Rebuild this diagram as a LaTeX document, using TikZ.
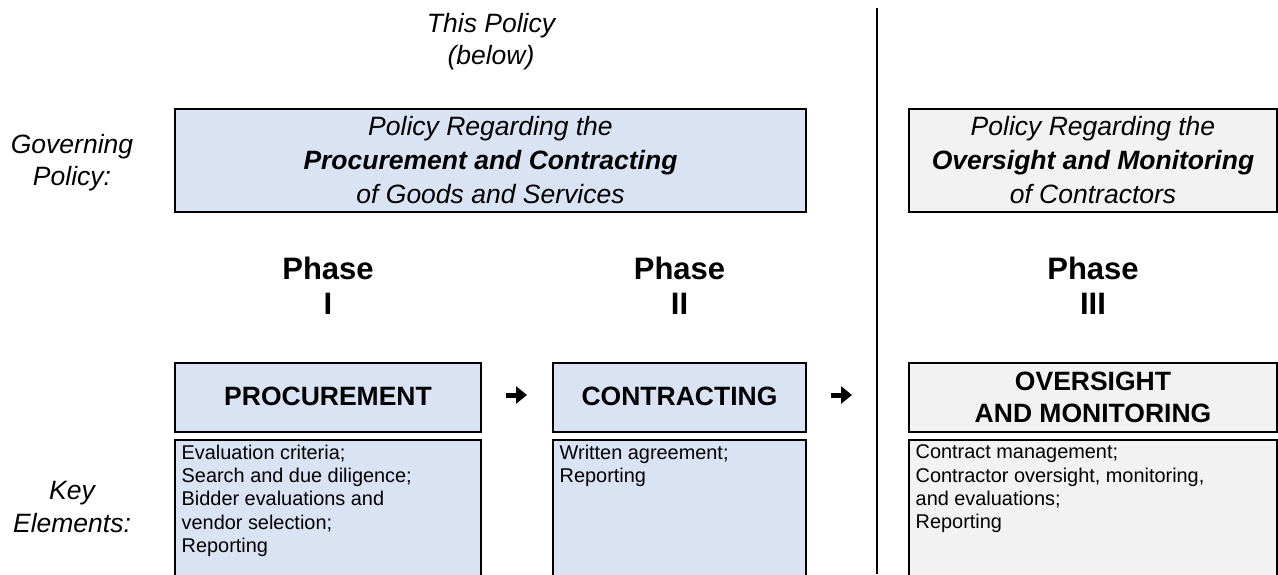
\documentclass[tikz,border=0pt]{standalone}
\usepackage{fontspec}
\setmainfont{Liberation Sans}
\usetikzlibrary{arrows.meta}
\definecolor{boxblue}{HTML}{DAE3F3}
\definecolor{boxgray}{HTML}{F2F2F2}
\begin{document}
\begin{tikzpicture}[x=1pt,y=1pt,
  frame/.style={draw=black, line width=2pt, inner sep=0pt, rectangle},
  bluebox/.style={frame, fill=boxblue},
  graybox/.style={frame, fill=boxgray},
  sidetext/.style={font=\fontsize{26.5}{32}\selectfont\itshape, align=center, inner sep=0pt},
  polytext/.style={font=\fontsize{26.5}{34}\selectfont\itshape, align=center},
  headtext/.style={font=\fontsize{26.5}{32}\selectfont\bfseries, align=center},
  phasetext/.style={font=\fontsize{31}{35}\selectfont\bfseries, align=center, inner sep=0pt},
  listtext/.style={font=\fontsize{19.9}{23.2}\selectfont, align=left, inner sep=0pt},
  flowarrow/.style={line width=5pt, -{Triangle[length=11pt,width=17pt]}},
  divider/.style={line width=2.5pt}
]
\useasboundingbox (0,0) rectangle (1278,-574);
\fill[white] (0,0) rectangle (1278,-574);

% top labels
\node[sidetext, anchor=north] (thispol) at (491,-13.5) {This Policy\\(below)};
\node[sidetext, anchor=north] (govern) at (72,-134) {Governing\\Policy:};
\node[sidetext, anchor=north, font=\fontsize{26.5}{33}\selectfont\itshape] (keyel) at (72,-481) {Key\\Elements:};

% policy boxes
\node[bluebox, polytext, minimum width=631pt, minimum height=103pt] (polA) at (490.5,-160.5)
  {Policy Regarding the\\\textbf{Procurement and Contracting}\\of Goods and Services};
\node[graybox, polytext, minimum width=368pt, minimum height=103pt] (polB) at (1093,-160.5)
  {Policy Regarding the\\\textbf{Oversight and Monitoring}\\of Contractors};

% phase labels
\node[phasetext, anchor=north] (ph1) at (328,-256.5) {Phase\\I};
\node[phasetext, anchor=north] (ph2) at (679.5,-256.5) {Phase\\II};
\node[phasetext, anchor=north] (ph3) at (1093,-256.5) {Phase\\III};

% head boxes
\node[bluebox, headtext, minimum width=306pt, minimum height=69pt, text depth=3pt] (proc) at (328,-397.5) {PROCUREMENT};
\node[bluebox, headtext, minimum width=253pt, minimum height=69pt, text depth=3pt] (contr) at (679.5,-397.5) {CONTRACTING};
\node[graybox, headtext, minimum width=368pt, minimum height=69pt] (over) at (1093,-397.5) {OVERSIGHT\\AND MONITORING};

% list boxes (open at the bottom edge)
\node[bluebox, minimum width=306pt, minimum height=160pt] (listA) at (328,-520) {};
\node[bluebox, minimum width=253pt, minimum height=160pt] (listB) at (679.5,-520) {};
\node[graybox, minimum width=368pt, minimum height=160pt] (listC) at (1093,-520) {};

\node[listtext, anchor=north west] (itemsA) at ([shift={(7.5,-5.8)}]listA.north west)
  {Evaluation criteria;\\Search and due diligence;\\Bidder evaluations and\\vendor selection;\\Reporting};
\node[listtext, anchor=north west] (itemsB) at ([shift={(7.5,-5.8)}]listB.north west)
  {Written agreement;\\Reporting};
\node[listtext, anchor=north west] (itemsC) at ([shift={(7.5,-5.8)}]listC.north west)
  {Contract management;\\Contractor oversight, monitoring,\\and evaluations;\\Reporting};

% arrows
\draw[flowarrow] ([shift={(24,2.5)}]proc.east) -- ([shift={(-25,2.5)}]contr.west);
\draw[flowarrow] ([shift={(24,2.5)}]contr.east) -- ([shift={(-56,2.5)}]over.west);

% divider
\coordinate (divtop) at (877,-8);
\coordinate (divbot) at (877,-574);
\draw[divider] (divtop) -- (divbot);
\end{tikzpicture}
\end{document}
